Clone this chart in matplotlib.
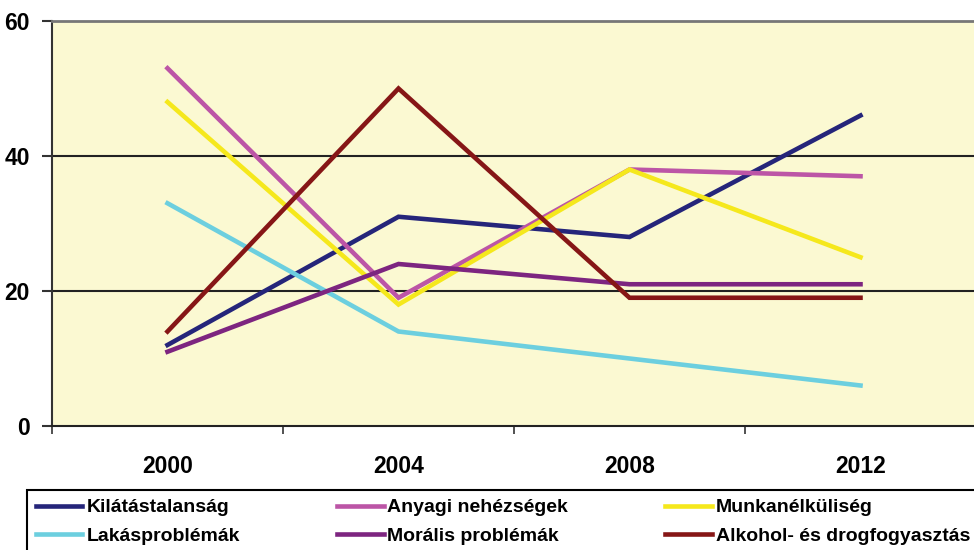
import matplotlib
matplotlib.use("Agg")
import matplotlib.pyplot as plt
import numpy as np

plt.rcParams['font.family'] = ['Liberation Sans', 'DejaVu Sans']

years = ["2000", "2004", "2008", "2012"]
kilatastalansag = [12, 31, 28, 46]
anyagi = [53, 19, 38, 37]
munkanelkuliseg = [48, 18, 38, 25]
lakas = [33, 14, 10, 6]
moralis = [11, 24, 21, 21]
alkohol = [14, 50, 19, 19]

series = [
    ("Kilátástalanság", kilatastalansag, "#25257A"),
    ("Anyagi nehézségek", anyagi, "#BC55A6"),
    ("Munkanélküliség", munkanelkuliseg, "#F5E81C"),
    ("Lakásproblémák", lakas, "#6CCFDF"),
    ("Morális problémák", moralis, "#7D2580"),
    ("Alkohol- és drogfogyasztás", alkohol, "#861616"),
]

fig = plt.figure(figsize=(9.74, 5.5), dpi=100)
ax = fig.add_axes([52/974, 124/550, 924/974, 405/550])
ax.set_facecolor("#FBF9D2")

x = np.arange(len(years))
handles = {}
for name, vals, col in series:
    h, = ax.plot(x, vals, color=col, lw=3.3, solid_joinstyle='miter', label=name, zorder=3)
    handles[name] = h

ax.set_xlim(-0.5, 3.5)
ax.set_ylim(0, 60)
ax.set_yticks([0, 20, 40, 60])
ax.set_xticks(x)
ax.set_xticklabels(years)
ax.set_xticks([-0.5, 0.5, 1.5, 2.5, 3.5], minor=True)
ax.tick_params(axis='x', which='major', length=0, pad=21, labelsize=16.5)
ax.tick_params(axis='x', which='minor', length=6, width=1.2, direction='out', color='#333333')
ax.tick_params(axis='y', length=7, width=1.5, direction='out', pad=9, labelsize=16.5, color='#333333')
for lbl in ax.get_xticklabels() + ax.get_yticklabels():
    lbl.set_fontweight('bold')

for yv in [20, 40]:
    ax.axhline(yv, color='#222222', lw=1.5, zorder=1)

ax.spines['top'].set_color('#777777')
ax.spines['top'].set_linewidth(2)
ax.spines['right'].set_visible(False)
ax.spines['left'].set_color('#333333')
ax.spines['left'].set_linewidth(1.5)
ax.spines['bottom'].set_color('#222222')
ax.spines['bottom'].set_linewidth(1.5)

order = ["Kilátástalanság", "Lakásproblémák", "Anyagi nehézségek",
         "Morális problémák", "Munkanélküliség", "Alkohol- és drogfogyasztás"]
leg = fig.legend([handles[n] for n in order], order, ncol=3,
                 loc='upper left', bbox_to_anchor=(27/974, 1 - 490/550),
                 prop={'weight': 'bold', 'size': 14},
                 frameon=True, fancybox=False, shadow=False,
                 handlelength=2.4, handletextpad=0.2, columnspacing=5.0,
                 labelspacing=0.55, borderpad=0.45, borderaxespad=0)
leg.get_frame().set_edgecolor('black')
leg.get_frame().set_linewidth(1.5)
leg.get_frame().set_alpha(1)

fig.savefig("out.png", dpi=100)
